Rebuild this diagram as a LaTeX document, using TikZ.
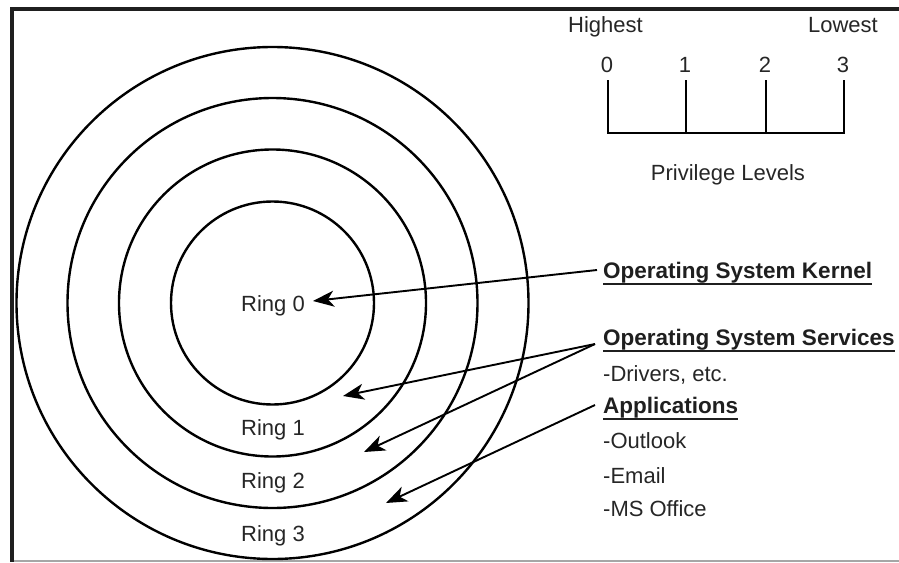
\documentclass[tikz,border=0pt]{standalone}
\usepackage{fontspec}
\setmainfont{Liberation Sans}
\usetikzlibrary{arrows.meta}
\begin{document}
\begin{tikzpicture}[x=1pt,y=-1pt,
  ring/.style={line width=2.4pt},
  lbl/.style={inner sep=0pt, anchor=base, text=black!85, font=\fontsize{22}{26}\selectfont},
  head/.style={inner sep=0pt, anchor=base west, text=black!88, font=\bfseries\fontsize{22.5}{27}\selectfont},
  item/.style={inner sep=0pt, anchor=base west, text=black!85, font=\fontsize{22}{26}\selectfont},
  ptr/.style={line width=1.9pt, -{Stealth[length=21pt,width=16pt,inset=6pt]}},
  uline/.style={line width=2pt, black!88},
  tickline/.style={line width=2.4pt}]
\useasboundingbox (0,0) rectangle (899,562);
% frame
\fill[black!88] (10,7) rectangle (899,11);
\fill[black!88] (10,7) rectangle (14,562);
\draw[black!35, line width=1.5pt] (14,561) -- (899,561);

% rings
\coordinate (c) at (272.5,303);
\draw[ring] (c) circle[radius=101.5pt];
\draw[ring] (c) circle[radius=153.5pt];
\draw[ring] (c) circle[radius=205pt];
\draw[ring] (c) circle[radius=256pt];

\node[lbl] (r0) at (273,311) {Ring 0};
\node[lbl] (r1) at (273,435) {Ring 1};
\node[lbl] (r2) at (273,488) {Ring 2};
\node[lbl] (r3) at (273,541) {Ring 3};

% privilege scale
\node[item, anchor=base west] (hi) at (568,32) {Highest};
\node[item, anchor=base east] (lo) at (878,32) {Lowest};
\node[lbl] (n0) at (607,72) {0};
\node[lbl] (n1) at (685,72) {1};
\node[lbl] (n2) at (765,72) {2};
\node[lbl] (n3) at (843,72) {3};
\draw[tickline] (608,80) -- (608,133) -- (844,133) -- (844,80);
\draw[tickline] (686,80) -- (686,133);
\draw[tickline] (766,80) -- (766,133);
\node[lbl] (pl) at (728,180) {Privilege Levels};

% right-hand texts
\node[head] (kern) at (603,278) {Operating System Kernel};
\node[head] (serv) at (603,345) {Operating System Services};
\node[item] (drv) at (603,381) {-Drivers, etc.};
\node[head] (apps) at (603,413) {Applications};
\node[item] (out) at (603,448) {-Outlook};
\node[item] (mail) at (603,483) {-Email};
\node[item] (mso) at (603,516) {-MS Office};

\foreach \n in {kern,serv,apps}
  \draw[uline] ([yshift=-5.5pt]\n.base west) -- ([yshift=-5.5pt]\n.base east);

% arrows
\coordinate (ks) at (597,270);
\coordinate (ss) at (595,344);
\coordinate (as) at (595,405);
\coordinate (t0) at (313,301);
\coordinate (t1) at (343,396);
\coordinate (t2) at (364,452);
\coordinate (t3) at (386,503);
\draw[ptr] (ks) -- (t0);
\draw[ptr] (ss) -- (t1);
\draw[ptr] (ss) -- (t2);
\draw[ptr] (as) -- (t3);
\end{tikzpicture}
\end{document}
